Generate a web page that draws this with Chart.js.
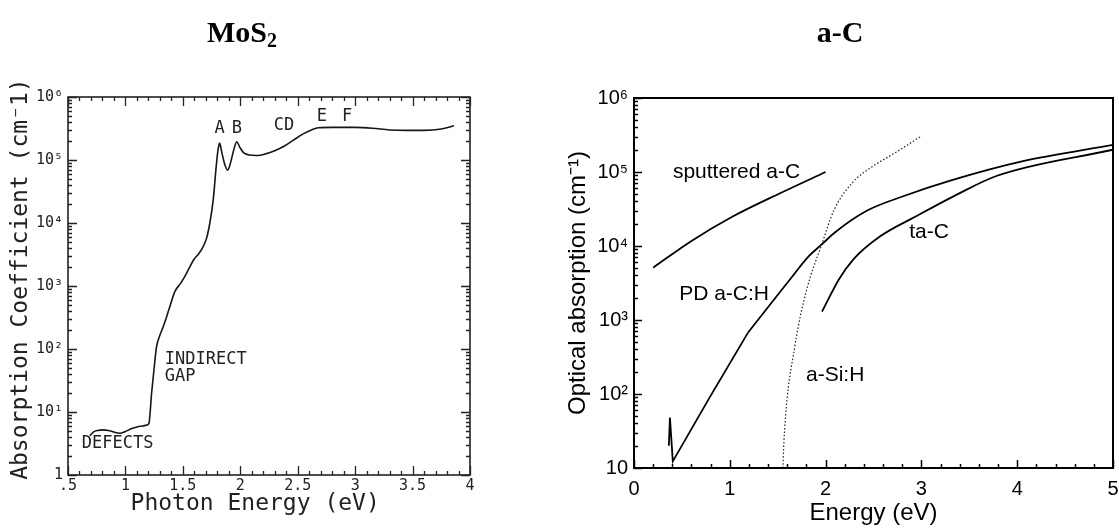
<!DOCTYPE html>
<html><head><meta charset="utf-8">
<script src="https://cdn.jsdelivr.net/npm/chart.js@4.4.1/dist/chart.umd.min.js"></script>
<style>
html,body{margin:0;padding:0;background:#fff;width:1119px;height:530px;overflow:hidden}
canvas{position:absolute;top:0}
#c1{left:0}
#c2{left:540px}
</style></head><body>
<canvas id="c1" width="520" height="530"></canvas>
<canvas id="c2" width="600" height="530"></canvas>
<script>
// ---------- MoS2 panel data ----------
const mosEnergy = [0.69,0.72,0.76,0.80,0.85,0.90,0.95,1.00,1.05,1.10,1.15,1.19,1.205,1.228,1.248,1.271,1.30,1.329,1.38,1.43,1.48,1.52,1.56,1.60,1.635,1.67,1.706,1.735,1.764,1.79,1.805,1.82,1.84,1.865,1.89,1.915,1.945,1.97,1.995,2.03,2.08,2.14,2.22,2.30,2.38,2.46,2.54,2.62,2.68,2.80,3.00,3.15,3.30,3.45,3.60,3.75,3.86];
const mosAlpha  = [4.2,4.8,5.1,5.2,5.1,4.8,4.6,4.9,5.4,5.8,6.0,6.2,6.6,20,46,109,165,226,430,815,1100,1450,2000,2700,3200,4000,5700,10000,23000,78000,140000,185000,130000,85000,69000,90000,150000,195000,160000,130000,120000,118000,125000,140000,165000,205000,255000,300000,325000,330000,330000,320000,300000,295000,295000,310000,350000];
const mosXTicks  = [0.5,1,1.5,2,2.5,3,3.5,4];
const mosXLabels = ['.5','1','1.5','2','2.5','3','3.5','4'];
const mosYTicks  = [1,10,100,1000,10000,100000,1000000];
const mosYLabels = ['1','10\u00b9','10\u00b2','10\u00b3','10\u2074','10\u2075','10\u2076'];
const mosNotes = [
  {text:'A', x:1.82, y:3.16e5, align:'center'},
  {text:'B', x:1.97, y:3.16e5, align:'center'},
  {text:'CD', x:2.38, y:3.5e5, align:'center'},
  {text:'E', x:2.71, y:4.9e5, align:'center'},
  {text:'F', x:2.93, y:4.9e5, align:'center'},
  {text:'INDIRECT', x:1.343, y:67.6, align:'left'},
  {text:'GAP', x:1.343, y:37, align:'left'},
  {text:'DEFECTS', x:0.62, y:3.2, align:'left'}
];

// ---------- a-C panel data ----------
const sputE = [0.2,0.6,1.03,1.53,2.0];
const sputA = [5100,11700,25000,52000,100000];
const pdE = [0.364,0.375,0.405,0.79,1.19,1.63,1.83,1.96,2.09,2.42,2.81,3.31,4.05,5.0];
const pdA = [20,48,12.3,90,675,3560,7400,10500,15000,29500,47000,77000,139000,232000];
const tacE = [1.963,2.14,2.29,2.57,2.94,3.35,3.79,5.0];
const tacA = [1300,3560,6600,13500,25000,48000,89000,200000];
const asiE = [1.554,1.57,1.68,1.80,1.96,2.09,2.29,2.46,2.72,3.0];
const asiA = [10,30,450,2500,10500,31000,74000,112000,180000,306000];
const acXTicks  = [0,1,2,3,4,5];
const acXLabels = ['0','1','2','3','4','5'];
const acYTicks  = [10,100,1000,10000,100000,1000000];
const acYLabels = ['10','10\u00b2','10\u00b3','10\u2074','10\u2075','10\u2076'];
const acNotes = [
  {text:'sputtered a-C', x:1.07, y:1.0e5, align:'center'},
  {text:'PD a-C:H', x:0.94, y:2240, align:'center'},
  {text:'ta-C', x:3.08, y:1.55e4, align:'center'},
  {text:'a-Si:H', x:2.10, y:180, align:'center'}
];

const MONO = "'DejaVu Sans Mono', monospace";
const SANS = "'Liberation Sans', Arial, sans-serif";
const SERIF = "'Liberation Serif', 'Times New Roman', serif";

const pts = (xs, ys) => xs.map((v, i) => ({x: v, y: ys[i]}));
// PD a-C:H: straight low-energy edge (index 0..4), smooth high-energy part (index 4..end)
const PD_SPLIT = 4;

function minorLin(lo, hi, stepDen, majorEvery) {
  const out = [];
  for (let i = Math.round(lo * stepDen); i <= Math.round(hi * stepDen); i++) {
    if (i % majorEvery !== 0) out.push(i / stepDen);
  }
  return out;
}
function minorLog(lo, hi) {
  const out = [];
  for (let d = lo; d < hi; d *= 10) for (let m = 2; m <= 9; m++) out.push(d * m);
  return out;
}

function framePlugin(cfg) {
  return {
    id: 'frameTicks',
    afterDraw(chart) {
      const {ctx, chartArea: a, scales} = chart;
      const x = scales.x, y = scales.y;
      ctx.save();
      ctx.strokeStyle = cfg.color;
      ctx.lineWidth = cfg.tickWidth;
      ctx.beginPath();
      const xt = (vals, len) => vals.forEach(v => {
        const p = Math.round(x.getPixelForValue(v)) + 0.5;
        if (cfg.sides.includes('b')) { ctx.moveTo(p, a.bottom); ctx.lineTo(p, a.bottom - len); }
        if (cfg.sides.includes('t')) { ctx.moveTo(p, a.top); ctx.lineTo(p, a.top + len); }
      });
      const yt = (vals, len) => vals.forEach(v => {
        const p = Math.round(y.getPixelForValue(v)) + 0.5;
        if (cfg.sides.includes('l')) { ctx.moveTo(a.left, p); ctx.lineTo(a.left + len, p); }
        if (cfg.sides.includes('r')) { ctx.moveTo(a.right, p); ctx.lineTo(a.right - len, p); }
      });
      xt(cfg.xMajor, cfg.majorLen); xt(cfg.xMinor, cfg.minorLen);
      yt(cfg.yMajor, cfg.majorLen); yt(cfg.yMinor, cfg.minorLen);
      ctx.stroke();
      ctx.lineWidth = cfg.frameWidth;
      ctx.strokeRect(a.left, a.top, a.right - a.left, a.bottom - a.top);
      ctx.restore();
    }
  };
}

function notesPlugin(cfg) {
  return {
    id: 'notes',
    afterDatasetsDraw(chart) {
      const {ctx, scales: {x, y}} = chart;
      ctx.save();
      ctx.fillStyle = cfg.color;
      ctx.font = cfg.font;
      ctx.textBaseline = 'middle';
      cfg.items.forEach(n => {
        ctx.textAlign = n.align;
        ctx.fillText(n.text, x.getPixelForValue(n.x), y.getPixelForValue(n.y));
      });
      // panel heading
      ctx.fillStyle = '#000';
      ctx.textBaseline = 'alphabetic';
      ctx.font = 'bold 30px ' + SERIF;
      const mainW = ctx.measureText(cfg.title).width;
      let subW = 0;
      if (cfg.sub) { ctx.font = 'bold 20px ' + SERIF; subW = ctx.measureText(cfg.sub).width; }
      const left = cfg.titleX - (mainW + subW) / 2;
      ctx.textAlign = 'left';
      ctx.font = 'bold 30px ' + SERIF;
      ctx.fillText(cfg.title, left, cfg.titleY);
      if (cfg.sub) { ctx.font = 'bold 20px ' + SERIF; ctx.fillText(cfg.sub, left + mainW, cfg.titleY + 5); }
      ctx.restore();
    }
  };
}

// ---------- Left chart: MoS2 ----------
new Chart(document.getElementById('c1'), {
  type: 'line',
  data: { datasets: [{
    data: pts(mosEnergy, mosAlpha), borderColor: '#151515', borderWidth: 1.6,
    pointRadius: 0, cubicInterpolationMode: 'monotone', fill: false
  }]},
  options: {
    responsive: false, animation: false, events: [],
    layout: { padding: { top: 97, right: 50, left: 0, bottom: 0 } },
    plugins: { legend: { display: false }, tooltip: { enabled: false } },
    scales: {
      x: {
        type: 'linear', min: 0.5, max: 4,
        grid: { display: false, drawTicks: false, tickLength: 0 }, border: { display: false },
        afterBuildTicks: s => { s.ticks = mosXTicks.map(v => ({value: v})); },
        afterFit: s => { s.height = 55; },
        ticks: { autoSkip: false, maxRotation: 0, padding: 2, color: '#222',
          font: { family: MONO, size: 15 }, callback: (v, i) => mosXLabels[i] },
        title: { display: true, text: 'Photon Energy (eV)  ', color: '#222',
          font: { family: MONO, size: 23 }, padding: { top: 0, bottom: 12 } }
      },
      y: {
        type: 'logarithmic', min: 1, max: 1e6,
        grid: { display: false, drawTicks: false, tickLength: 0 }, border: { display: false },
        afterBuildTicks: s => { s.ticks = mosYTicks.map(v => ({value: v})); },
        afterFit: s => { s.width = 68; },
        ticks: { autoSkip: false, padding: 5, color: '#222',
          font: { family: MONO, size: 15 }, callback: (v, i) => mosYLabels[i] },
        title: { display: true, text: ' Absorption Coefficient (cm\u207b1)', color: '#222',
          font: { family: MONO, size: 23 }, padding: { top: 7, bottom: 0 } }
      }
    }
  },
  plugins: [
    framePlugin({ color: '#222', tickWidth: 1.3, frameWidth: 1.6, sides: 'lrtb',
      majorLen: 9, minorLen: 4,
      xMajor: mosXTicks, xMinor: minorLin(0.5, 4, 10, 5),
      yMajor: mosYTicks, yMinor: minorLog(1, 1e6) }),
    notesPlugin({ color: '#222', font: '17px ' + MONO, items: mosNotes,
      title: 'MoS', sub: '2', titleX: 242, titleY: 42 })
  ]
});

// ---------- Right chart: a-C ----------
new Chart(document.getElementById('c2'), {
  type: 'line',
  data: { datasets: [
    { data: pts(sputE, sputA), borderColor: '#000', borderWidth: 1.8, pointRadius: 0, cubicInterpolationMode: 'monotone', fill: false },
    { data: pts(pdE.slice(0, PD_SPLIT + 1), pdA.slice(0, PD_SPLIT + 1)), borderColor: '#000', borderWidth: 1.8, pointRadius: 0, tension: 0, fill: false },
    { data: pts(pdE.slice(PD_SPLIT), pdA.slice(PD_SPLIT)), borderColor: '#000', borderWidth: 1.8, pointRadius: 0, cubicInterpolationMode: 'monotone', fill: false },
    { data: pts(tacE, tacA), borderColor: '#000', borderWidth: 1.8, pointRadius: 0, cubicInterpolationMode: 'monotone', fill: false },
    { data: pts(asiE, asiA), borderColor: '#222', borderWidth: 1.2, borderDash: [1.5, 2], pointRadius: 0, cubicInterpolationMode: 'monotone', fill: false }
  ]},
  options: {
    responsive: false, animation: false, events: [],
    layout: { padding: { top: 98, right: 27, left: 0, bottom: 0 } },
    plugins: { legend: { display: false }, tooltip: { enabled: false } },
    scales: {
      x: {
        type: 'linear', min: 0, max: 5,
        grid: { display: false, drawTicks: false, tickLength: 0 }, border: { display: false },
        afterBuildTicks: s => { s.ticks = acXTicks.map(v => ({value: v})); },
        afterFit: s => { s.height = 62; },
        ticks: { autoSkip: false, maxRotation: 0, padding: 9, color: '#000',
          font: { family: SANS, size: 20 }, callback: (v, i) => acXLabels[i] },
        title: { display: true, text: 'Energy (eV)', color: '#000',
          font: { family: SANS, size: 24 }, padding: { top: 0, bottom: 2 } }
      },
      y: {
        type: 'logarithmic', min: 10, max: 1e6,
        grid: { display: false, drawTicks: false, tickLength: 0 }, border: { display: false },
        afterBuildTicks: s => { s.ticks = acYTicks.map(v => ({value: v})); },
        afterFit: s => { s.width = 94; },
        ticks: { autoSkip: false, padding: 6, color: '#000',
          font: { family: SANS, size: 20 }, callback: (v, i) => acYLabels[i] },
        title: { display: true, text: 'Optical absorption (cm\u207b\u00b9)', color: '#000',
          font: { family: SANS, size: 24 }, padding: { top: 24, bottom: 0 } }
      }
    }
  },
  plugins: [
    framePlugin({ color: '#000', tickWidth: 1.5, frameWidth: 2, sides: 'lb',
      majorLen: 8, minorLen: 4,
      xMajor: acXTicks, xMinor: minorLin(0, 5, 5, 5),
      yMajor: acYTicks, yMinor: minorLog(10, 1e6) }),
    notesPlugin({ color: '#000', font: '21px ' + SANS, items: acNotes,
      title: 'a-C', sub: '', titleX: 300, titleY: 42 })
  ]
});
</script></body></html>
